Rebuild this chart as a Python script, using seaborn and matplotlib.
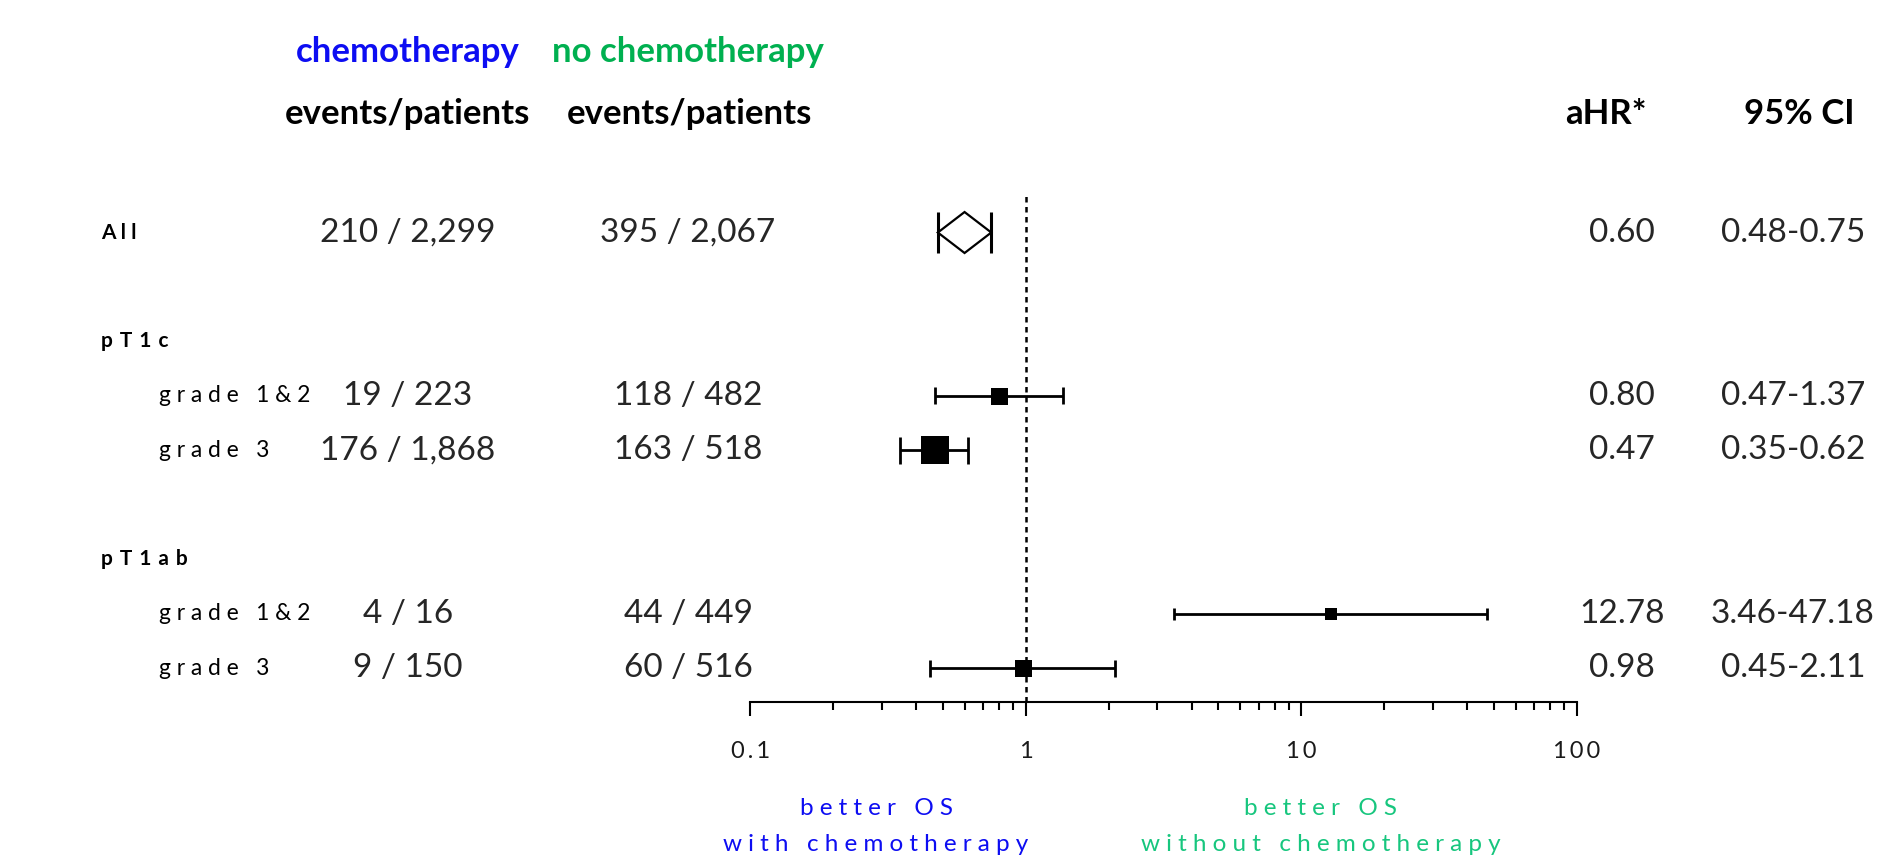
import numpy as np
import pandas as pd
import matplotlib
matplotlib.use("Agg")
import matplotlib.pyplot as plt
import matplotlib.transforms as mtransforms
from matplotlib.ticker import LogLocator, NullFormatter, FixedLocator, FixedFormatter
import seaborn as sns

# ---------------- data ----------------
row_labels = ["All", "pT1c", "grade 1&2", "grade 3", "pT1ab", "grade 1&2", "grade 3"]
row_is_group = [True, True, False, False, True, False, False]
chemo_events = [210, None, 19, 176, None, 4, 9]
chemo_patients = [2299, None, 223, 1868, None, 16, 150]
nochemo_events = [395, None, 118, 163, None, 44, 60]
nochemo_patients = [2067, None, 482, 518, None, 449, 516]
ahr = [0.60, None, 0.80, 0.47, None, 12.78, 0.98]
ci_low = [0.48, None, 0.47, 0.35, None, 3.46, 0.45]
ci_high = [0.75, None, 1.37, 0.62, None, 47.18, 2.11]
x_ticks = [0.1, 1, 10, 100]
x_tick_labels = ["0.1", "1", "10", "100"]

# ---------------- layout / style ----------------
row_pos = [0, 2, 3, 4, 6, 7, 8]
square_px = [None, None, 17, 27, None, 12, 17]
label_sep = ["\u2005", "\u2004", "\u2005", "\u2005", "\u2004", "\u2005", "\u2005"]
summary_height_px = 41
PX_PER_UNIT = 54.5
BLUE = "#0D0DF2"
GREEN_HDR = "#00B050"
GREEN_BOT = "#17C67E"

sns.set_theme(style="white")
plt.rcParams["font.family"] = ["Lato", "DejaVu Sans"]


def tracked(s, sep):
    return sep.join(s)


def fmt_int(v):
    return f"{v:,}"


fig = plt.figure(figsize=(18.87, 8.56), dpi=100)
ax = fig.add_axes([0.3975, 0.1799, 0.4382, 0.5946])
ax.set_xscale("log")
ax.set_xlim(0.1, 100)
ax.set_ylim(8.62, -0.725)

# reference line
ax.axvline(1, color="black", lw=1.8, ls=(0, (2.2, 1.8)), zorder=1)

# rows
df = pd.DataFrame({
    "label": row_labels, "y": row_pos, "ahr": ahr,
    "lo": ci_low, "hi": ci_high, "sq": square_px,
})

for i, r in df.iterrows():
    if pd.isna(r["ahr"]):
        continue
    y = r["y"]
    if i == 0:
        half = summary_height_px / 2 / PX_PER_UNIT
        ax.vlines([r["lo"], r["hi"]], y - half, y + half, color="black", lw=2.2, zorder=3)
        xs = [r["lo"], r["ahr"], r["hi"], r["ahr"], r["lo"]]
        ys = [y, y - half, y, y + half, y]
        ax.fill(xs, ys, facecolor="white", edgecolor="black", lw=1.6, zorder=4)
    else:
        cap_half = r["sq"] / 2 / PX_PER_UNIT
        ax.hlines(y, r["lo"], r["hi"], color="black", lw=2.0, zorder=2)
        ax.vlines([r["lo"], r["hi"]], y - cap_half, y + cap_half, color="black", lw=2.0, zorder=2)
        sub = df.iloc[[i]]
        side_pt = r["sq"] * 72 / 100
        sns.scatterplot(data=sub, x="ahr", y="y", marker="s", s=side_pt ** 2,
                        color="black", linewidth=0, ax=ax, zorder=5, legend=False)

# axes styling
for side in ["top", "right", "left"]:
    ax.spines[side].set_visible(False)
ax.spines["bottom"].set_linewidth(1.5)
ax.spines["bottom"].set_color("black")
ax.set_yticks([])
ax.set_xlabel("")
ax.set_ylabel("")
ax.xaxis.set_major_locator(FixedLocator(x_ticks))
ax.xaxis.set_major_formatter(FixedFormatter([tracked(t, "\u2009") for t in x_tick_labels]))
ax.xaxis.set_minor_locator(LogLocator(base=10, subs=np.arange(2, 10)))
ax.xaxis.set_minor_formatter(NullFormatter())
ax.tick_params(axis="x", which="major", direction="out", length=10, width=1.5,
               color="black", labelsize=17, pad=18, labelcolor="#1a1a1a", bottom=True)
ax.tick_params(axis="x", which="minor", direction="out", length=6, width=1.5,
               color="black", bottom=True)
ax.grid(False)

# text columns
blend = mtransforms.blended_transform_factory(fig.transFigure, ax.transData)
W = 1887.0
for i, r in df.iterrows():
    y = r["y"]
    if row_is_group[i]:
        ax.text(101 / W, y, tracked(r["label"], label_sep[i]), transform=blend, ha="left",
                va="center", fontsize=15, fontweight="bold", color="black", clip_on=False)
    else:
        ax.text(159 / W, y, tracked(r["label"], label_sep[i]), transform=blend, ha="left",
                va="center", fontsize=16.5, color="black", clip_on=False)
    if chemo_events[i] is not None:
        ax.text(408 / W, y, f"{fmt_int(chemo_events[i])} / {fmt_int(chemo_patients[i])}",
                transform=blend, ha="center", va="center", fontsize=24, clip_on=False)
        ax.text(688 / W, y, f"{fmt_int(nochemo_events[i])} / {fmt_int(nochemo_patients[i])}",
                transform=blend, ha="center", va="center", fontsize=24, clip_on=False)
        ax.text(1622 / W, y, f"{ahr[i]:.2f}", transform=blend, ha="center", va="center",
                fontsize=24, clip_on=False)
        ax.text(1793 / W, y, f"{ci_low[i]:.2f}-{ci_high[i]:.2f}", transform=blend,
                ha="center", va="center", fontsize=24, clip_on=False)

# headers
H = 856.0
fig.text(408 / W, 1 - 52 / H, "chemotherapy", ha="center", va="center", fontsize=25,
         fontweight="bold", color=BLUE)
fig.text(688 / W, 1 - 52 / H, "no chemotherapy", ha="center", va="center", fontsize=25,
         fontweight="bold", color=GREEN_HDR)
for xc, s in [(408, "events/patients"), (689, "events/patients"), (1606, "aHR*"), (1799, "95% CI")]:
    fig.text(xc / W, 1 - 114 / H, s, ha="center", va="center", fontsize=25,
             fontweight="bold", color="black")

# bottom annotations
fig.text(876 / W, 1 - 815 / H, tracked("better OS", "\u2005"), ha="center", va="baseline",
         fontsize=17.5, color=BLUE)
fig.text(876 / W, 1 - 851 / H, tracked("with chemotherapy", "\u2005"), ha="center",
         va="baseline", fontsize=17.5, color=BLUE)
fig.text(1321 / W, 1 - 815 / H, tracked("better OS", "\u2005"), ha="center", va="baseline",
         fontsize=17.5, color=GREEN_BOT)
fig.text(1321 / W, 1 - 851 / H, tracked("without chemotherapy", "\u2005"), ha="center",
         va="baseline", fontsize=17.5, color=GREEN_BOT)

fig.savefig("out.png", dpi=100, facecolor="white")
